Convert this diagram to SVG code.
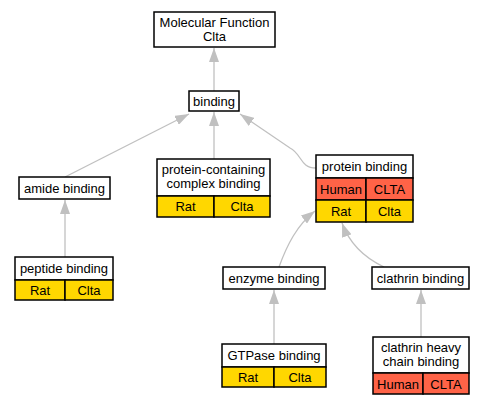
<svg xmlns="http://www.w3.org/2000/svg" width="485" height="405" viewBox="0 0 485 405">
<defs>
<marker id="arr" viewBox="0 0 14 10" refX="14" refY="5" markerWidth="14" markerHeight="10" markerUnits="userSpaceOnUse" orient="auto">
<path d="M0,0 L14,5 L0,10 Z" fill="#c0c0c0"/>
</marker>
</defs>
<style>
.box{fill:#ffffff;stroke:#000000;stroke-width:1.5}
.hum{fill:#ff6347;stroke:#000000;stroke-width:1.5}
.rat{fill:#ffd700;stroke:#000000;stroke-width:1.5}
text{font-family:"Liberation Sans",Arial,sans-serif;font-size:13px;fill:#000000;text-anchor:middle}
.edge{fill:none;stroke:#c0c0c0;stroke-width:1.3;marker-end:url(#arr)}
</style>
<rect width="485" height="405" fill="#ffffff"/>
<g id="connectors">
<path class="edge" d="M214,91 L214,48"/>
<path class="edge" d="M65,177 L189,114"/>
<path class="edge" d="M214,159 L214,112"/>
<path class="edge" d="M316,168 C300,168 302,154 290,148 L240,114"/>
<path class="edge" d="M279,267 C287,245 297,225 315,211"/>
<path class="edge" d="M384,267 C365,258 350,245 342,223"/>
<path class="edge" d="M65,257 L65,200"/>
<path class="edge" d="M274,344 L274,290"/>
<path class="edge" d="M421,337 L421,290"/>
</g>
<g id="mf">
<rect class="box" x="154" y="12" width="121" height="35"/>
<text x="214.5" y="27">Molecular Function</text>
<text x="214.5" y="41">Clta</text>
</g>
<g id="binding">
<rect class="box" x="189" y="91" width="50" height="20"/>
<text x="214" y="106">binding</text>
</g>
<g id="amide">
<rect class="box" x="19" y="177" width="91" height="22"/>
<text x="64.5" y="193">amide binding</text>
</g>
<g id="pcc">
<rect class="box" x="157" y="159" width="113" height="37"/>
<text x="213.5" y="174">protein-containing</text>
<text x="213.5" y="188">complex binding</text>
<rect class="rat" x="157" y="196" width="57" height="21"/>
<rect class="rat" x="214" y="196" width="56" height="21"/>
<text x="185.5" y="211">Rat</text>
<text x="242" y="211">Clta</text>
</g>
<g id="protein">
<rect class="box" x="316" y="155" width="97" height="23"/>
<text x="364.5" y="171">protein binding</text>
<rect class="hum" x="316" y="178" width="50" height="22"/>
<rect class="hum" x="366" y="178" width="47" height="22"/>
<text x="341" y="194">Human</text>
<text x="389.5" y="194">CLTA</text>
<rect class="rat" x="316" y="200" width="50" height="22"/>
<rect class="rat" x="366" y="200" width="47" height="22"/>
<text x="341" y="216">Rat</text>
<text x="389.5" y="216">Clta</text>
</g>
<g id="peptide">
<rect class="box" x="15" y="257" width="98" height="23"/>
<text x="64" y="273">peptide binding</text>
<rect class="rat" x="15" y="280" width="50" height="20"/>
<rect class="rat" x="65" y="280" width="48" height="20"/>
<text x="40" y="295">Rat</text>
<text x="89" y="295">Clta</text>
</g>
<g id="enzyme">
<rect class="box" x="223" y="267" width="102" height="22"/>
<text x="274" y="283">enzyme binding</text>
</g>
<g id="clathrin">
<rect class="box" x="372" y="267" width="97" height="22"/>
<text x="420.5" y="283">clathrin binding</text>
</g>
<g id="gtpase">
<rect class="box" x="222" y="344" width="104" height="23"/>
<text x="274" y="360">GTPase binding</text>
<rect class="rat" x="222" y="367" width="52" height="20"/>
<rect class="rat" x="274" y="367" width="52" height="20"/>
<text x="248" y="382">Rat</text>
<text x="300" y="382">Clta</text>
</g>
<g id="chcb">
<rect class="box" x="373" y="337" width="96" height="36"/>
<text x="421" y="352">clathrin heavy</text>
<text x="421" y="366">chain binding</text>
<rect class="hum" x="373" y="373" width="50" height="21"/>
<rect class="hum" x="423" y="373" width="46" height="21"/>
<text x="398" y="389">Human</text>
<text x="446" y="389">CLTA</text>
</g>
</svg>
